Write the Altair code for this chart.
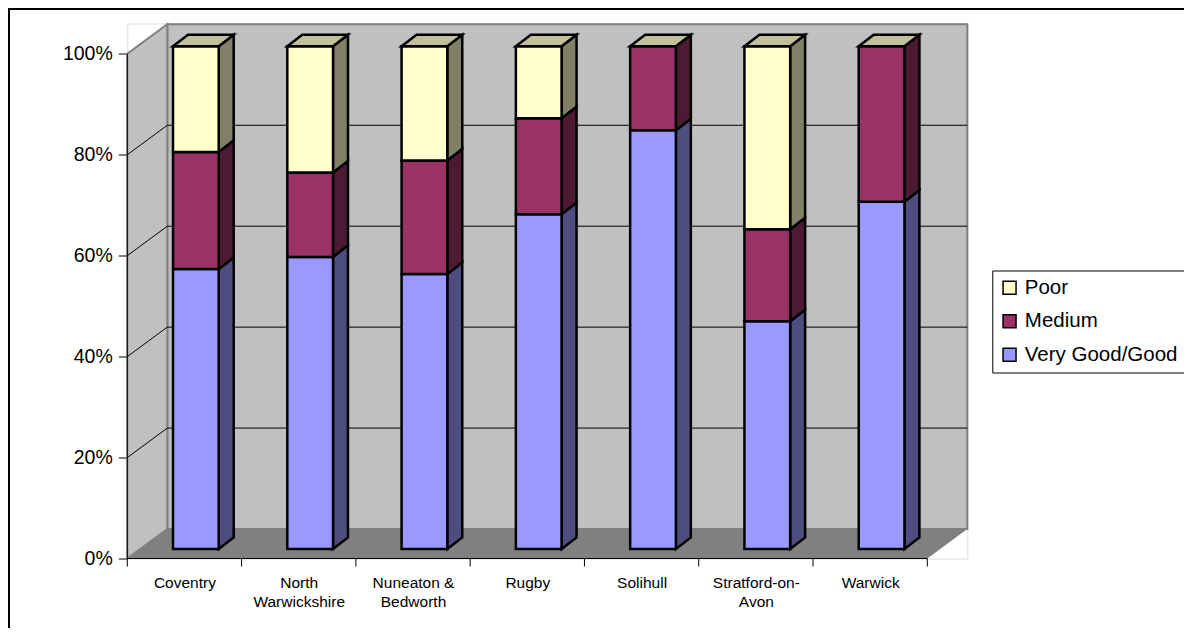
import json
import altair as alt
import pandas as pd

# ---------------- data ----------------
CATEGORIES = ["Coventry", "North Warwickshire", "Nuneaton & Bedworth", "Rugby",
              "Solihull", "Stratford-on-Avon", "Warwick"]
AXIS_LABELS = [["Coventry"], ["North", "Warwickshire"], ["Nuneaton &", "Bedworth"],
               ["Rugby"], ["Solihull"], ["Stratford-on-", "Avon"], ["Warwick"]]
SERIES = ["Very Good/Good", "Medium", "Poor"]          # stacking order, bottom -> top
LEGEND_ORDER = ["Poor", "Medium", "Very Good/Good"]
VERY_GOOD = [55.7, 58.1, 54.7, 66.6, 83.3, 45.3, 69.1]
MEDIUM = [23.3, 16.8, 22.6, 19.1, 16.7, 18.3, 30.9]
POOR = [21.0, 25.1, 22.7, 14.3, 0.0, 36.4, 0.0]
Y_TICKS = [0, 20, 40, 60, 80, 100]

# ---------------- style ----------------
FRONT = {"Very Good/Good": "#9999FF", "Medium": "#993366", "Poor": "#FFFFCC"}
SIDE = {"Very Good/Good": "#4D4D80", "Medium": "#4D1A33", "Poor": "#808066"}
TOP_COLOR = "#C0C09A"
WALL = "#C0C0C0"
FLOOR = "#808080"
EDGE = "#808080"
FONT = "Liberation Sans"
BAR_STROKE = 2.5

# oblique-projection constants (in scale units)
N = len(CATEGORIES)
DX, DY = 0.35, 5.84          # full depth of the floor / walls
BX0, BX1 = 0.40, 0.80        # front face of a bar inside its category slot
BDX, BDY = 0.131, 2.3        # depth of a bar
BASE, K = 1.88, 0.996        # bar front-face baseline and vertical factor

W, H = 840, 535
XMAX = N + DX
YMAX = 106
PAD_L, PAD_T = 119.3, 15.5
PAD_R = 1176 - PAD_L - W
PAD_B = 620 - PAD_T - H

xs = alt.Scale(domain=[0, XMAX], nice=False, zero=False)
ys = alt.Scale(domain=[0, YMAX], nice=False, zero=False)

xaxis = alt.Axis(values=[i + 0.5 for i in range(N)], title=None, domain=False, grid=False,
                 ticks=False,
                 labelExpr=json.dumps(AXIS_LABELS) + "[floor(datum.value)]",
                 labelAlign="center", labelBaseline="top",
                 labelFontSize=15.5, labelLineHeight=18.5, labelPadding=17,
                 labelOverlap=False, labelFlush=False, labelBound=False,
                 labelColor="#000", labelFont=FONT)
yaxis = alt.Axis(values=Y_TICKS, title=None, domain=False, grid=False,
                 tickSize=9, tickColor="#000", tickWidth=1,
                 labelExpr="datum.value + '%'", labelFontSize=19.5, labelPadding=6,
                 labelFlush=False, labelOverlap=False, labelColor="#000", labelFont=FONT)


def X(f="x"):
    return alt.X(f + ":Q", scale=xs, axis=xaxis)


def Y(f="y"):
    return alt.Y(f + ":Q", scale=ys, axis=yaxis, stack=None)


# ---------------- geometry tables derived from the data ----------------
values = {"Very Good/Good": VERY_GOOD, "Medium": MEDIUM, "Poor": POOR}
front_rows, side_rows, top_rows = [], [], []
for i in range(N):
    lo = 0.0
    for s in SERIES:
        v = values[s][i]
        hi = lo + v
        if v > 0:
            y0, y1 = BASE + K * lo, BASE + K * hi
            front_rows.append({"series": s, "x": i + BX0, "x2": i + BX1, "y": y0, "y2": y1})
            seg = f"{i}-{s}"
            side_rows.append({"seg": seg, "series": s, "x": i + BX1, "y": y0, "y2": y1})
            side_rows.append({"seg": seg, "series": s, "x": i + BX1 + BDX, "y": y0 + BDY, "y2": y1 + BDY})
        lo = hi
    t = BASE + K * lo
    top_rows += [
        {"cat": i, "x": i + BX0, "y": t, "y2": t},
        {"cat": i, "x": i + BX0 + BDX, "y": t, "y2": t + BDY},
        {"cat": i, "x": i + BX1, "y": t, "y2": t + BDY},
        {"cat": i, "x": i + BX1 + BDX, "y": t + BDY, "y2": t + BDY},
    ]

df_front = pd.DataFrame(front_rows)
df_side = pd.DataFrame(side_rows)
df_top = pd.DataFrame(top_rows)

df_back = pd.DataFrame([{"x": DX, "x2": XMAX, "y": DY, "y2": DY + 100}])
df_left = pd.DataFrame([{"x": 0, "y": 0, "y2": 100}, {"x": DX, "y": DY, "y2": DY + 100}])
df_floor = pd.DataFrame([
    {"x": 0, "y": 0, "y2": 0},
    {"x": DX, "y": 0, "y2": DY},
    {"x": N, "y": 0, "y2": DY},
    {"x": XMAX, "y": DY, "y2": DY},
])
inner = Y_TICKS[1:-1]
df_grid = pd.DataFrame([{"x": DX, "x2": XMAX, "y": v + DY} for v in inner])
df_diag = pd.DataFrame([{"x": 0, "x2": DX, "y": v, "y2": v + DY} for v in inner])
df_vaxis = pd.DataFrame([{"x": 0, "y": 0, "y2": 100}])
df_haxis = pd.DataFrame([{"x": 0, "x2": N, "y": 0}])
df_xticks = pd.DataFrame([{"x": i, "y": 0} for i in range(N + 1)])
df_one = pd.DataFrame([{"k": 1}])

# ---------------- layers ----------------
back = alt.Chart(df_back).mark_rect(fill=WALL, stroke=EDGE, strokeWidth=2).encode(
    x=X(), x2="x2:Q", y=Y(), y2="y2:Q")
left = alt.Chart(df_left).mark_area(fill=WALL, stroke=EDGE, strokeWidth=2, orient="vertical").encode(
    x=X(), y=Y(), y2="y2:Q")
floor = alt.Chart(df_floor).mark_area(fill=FLOOR, orient="vertical").encode(
    x=X(), y=Y(), y2="y2:Q")
grid = alt.Chart(df_grid).mark_rule(color="#000", strokeWidth=1).encode(
    x=X(), x2="x2:Q", y=Y())
diag = alt.Chart(df_diag).mark_rule(color="#000", strokeWidth=1).encode(
    x=X(), x2="x2:Q", y=Y(), y2="y2:Q")
vaxis = alt.Chart(df_vaxis).mark_rule(color="#000", strokeWidth=1).encode(
    x=X(), y=Y(), y2="y2:Q")
haxis = alt.Chart(df_haxis).mark_rule(color="#000", strokeWidth=1).encode(
    x=X(), x2="x2:Q", y=Y())
xticks = alt.Chart(df_xticks).mark_rule(color="#000", strokeWidth=1).encode(
    x=X(), y=Y(), y2=alt.value(H + 8))

sides = alt.Chart(df_side).mark_area(stroke="#000", strokeWidth=BAR_STROKE, orient="vertical",
                                     strokeJoin="miter").encode(
    x=X(), y=Y(), y2="y2:Q",
    fill=alt.Fill("series:N", scale=alt.Scale(domain=SERIES, range=[SIDE[s] for s in SERIES]),
                  legend=None),
    detail="seg:N")
fronts = alt.Chart(df_front).mark_rect(stroke="#000", strokeWidth=BAR_STROKE, strokeJoin="miter").encode(
    x=X(), x2="x2:Q", y=Y(), y2="y2:Q",
    color=alt.Color("series:N",
                    scale=alt.Scale(domain=LEGEND_ORDER, range=[FRONT[s] for s in LEGEND_ORDER]),
                    legend=alt.Legend(title=None, orient="none", legendX=865, legendY=247,
                                      symbolType="square", symbolSize=169,
                                      symbolStrokeColor="#000", symbolStrokeWidth=1.5,
                                      symbolOpacity=1,
                                      labelFontSize=20.5, labelFont=FONT, labelColor="#000",
                                      labelOffset=5, rowPadding=12.5, padding=7,
                                      strokeColor="#000", fillColor="white", labelLimit=400)))
tops = alt.Chart(df_top).mark_area(fill=TOP_COLOR, stroke="#000", strokeWidth=BAR_STROKE,
                                   orient="vertical", strokeJoin="miter").encode(
    x=X(), y=Y(), y2="y2:Q", detail="cat:N")

border = alt.Chart(df_one).mark_rect(fill="transparent", stroke="#000", strokeWidth=2).encode(
    x=alt.value(-PAD_L + 1), x2=alt.value(W + 400),
    y=alt.value(-PAD_T + 1), y2=alt.value(H + 400))

chart = alt.layer(back, left, floor, grid, diag, vaxis, haxis, xticks, sides, fronts, tops,
                  border).properties(
    width=W, height=H,
    padding={"left": PAD_L, "top": PAD_T, "right": PAD_R, "bottom": PAD_B},
    autosize=alt.AutoSizeParams(type="none"),
    background="white",
).configure_view(stroke=None).configure(font=FONT)

chart.save("out.html", embed_options={"renderer": "svg", "actions": False})
